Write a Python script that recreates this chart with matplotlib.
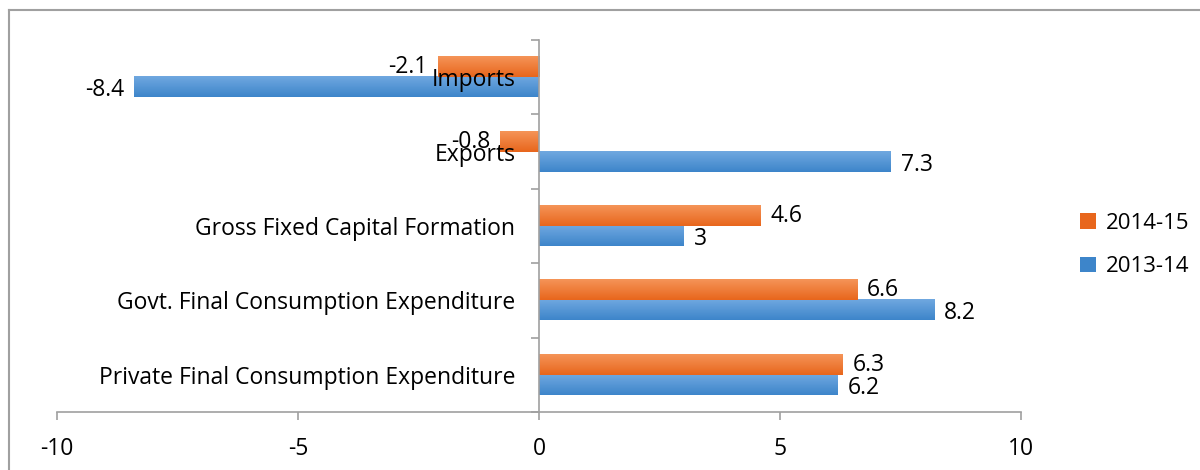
import numpy as np
import matplotlib.pyplot as plt
from matplotlib.lines import Line2D
from matplotlib.patches import Patch
from matplotlib.colors import LinearSegmentedColormap

plt.rcParams['font.family'] = ['Open Sans', 'DejaVu Sans']
plt.rcParams['axes.unicode_minus'] = False

categories = ["Private Final Consumption Expenditure", "Govt. Final Consumption Expenditure",
              "Gross Fixed Capital Formation", "Exports", "Imports"]
series_names = ["2013-14", "2014-15"]
v1314 = [6.2, 8.2, 3, 7.3, -8.4]
v1415 = [6.3, 6.6, 4.6, -0.8, -2.1]

blue_top, blue_bot = "#70a8e0", "#3d85ca"
orng_top, orng_bot = "#f59458", "#e8661c"
fs = 16.5

fig = plt.figure(figsize=(12, 4.7), dpi=100)
ax = fig.add_axes([57/1200, 58/470, (1021-57)/1200, (412-40)/470])
ax.set_axisbelow(False)

y = np.arange(len(categories))
h = 0.27
b1 = ax.barh(y - h/2, v1314, height=h, color="none", edgecolor="none")
b2 = ax.barh(y + h/2, v1415, height=h, color="none", edgecolor="none")

# vertical gradient fill for each bar (Excel look)
def grad(bars, top, bot):
    cm = LinearSegmentedColormap.from_list("g", [bot, top])
    g = np.linspace(0, 1, 64).reshape(-1, 1)
    for r in bars:
        x0, y0, w, hh = r.get_x(), r.get_y(), r.get_width(), r.get_height()
        ax.imshow(g, cmap=cm, aspect="auto", origin="lower",
                  extent=(x0, x0 + w, y0, y0 + hh), zorder=2)

grad(b1, blue_top, blue_bot)
grad(b2, orng_top, orng_bot)

ax.set_xlim(-10, 10)
ax.set_ylim(-0.5, 4.5)

for bars, vals, dy in [(b1, v1314, -3), (b2, v1415, 0)]:
    for r, v in zip(bars, vals):
        yc = r.get_y() + r.get_height()/2
        off = 10 if v >= 0 else -10
        ax.annotate(f"{v:g}", (v, yc), xytext=(off, dy), textcoords="offset pixels",
                    ha="left" if v >= 0 else "right", va="center", fontsize=fs, zorder=5)

for s in ["top", "right"]:
    ax.spines[s].set_visible(False)
ax.spines["left"].set_position(("data", 0))
for s in ["left", "bottom"]:
    ax.spines[s].set_color("#a0a0a0")
    ax.spines[s].set_linewidth(1.2)

ax.set_xticks([-10, -5, 0, 5, 10])
ax.tick_params(axis="x", direction="out", length=6, color="#a0a0a0", width=1.2,
               labelsize=fs, pad=12)
ax.set_yticks(np.arange(-0.5, 5, 1))
ax.set_yticklabels([])
ax.set_yticks(y, categories, minor=True)
ax.tick_params(axis="y", which="major", direction="out", length=6, color="#a0a0a0", width=1.2)
ax.tick_params(axis="y", which="minor", length=0, labelsize=fs, pad=17)

handles = [Patch(facecolor=orng_bot, label=series_names[1]),
           Patch(facecolor=blue_bot, label=series_names[0])]
fig.legend(handles=handles, loc="center left", bbox_to_anchor=(1060/1200, 1 - 245/470),
           frameon=False, fontsize=16, handlelength=0.7, handleheight=0.7,
           handletextpad=0.45, labelspacing=1.0)

# outer chart frame (top and left edges visible)
fig.add_artist(Line2D([9/1200, 9/1200], [0, 1 - 10/470], color="#a0a0a0", lw=1.5))
fig.add_artist(Line2D([9/1200, 1], [1 - 10/470, 1 - 10/470], color="#a0a0a0", lw=1.5))

fig.savefig("out.png", dpi=100)
